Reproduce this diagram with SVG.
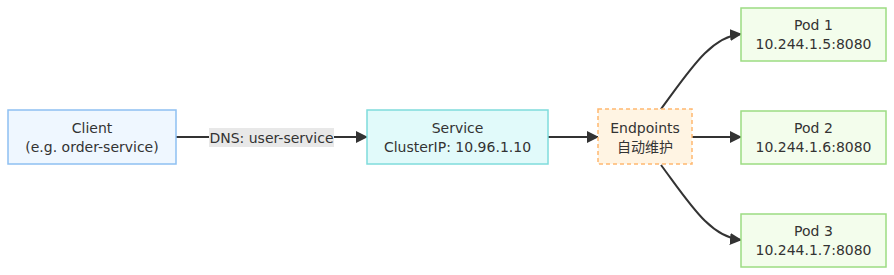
<svg xmlns="http://www.w3.org/2000/svg" width="894" height="275" viewBox="0 0 894 275">
<style>
text{font-family:"DejaVu Sans","Noto Sans CJK SC",sans-serif;font-size:14px;fill:#333;text-anchor:middle}
.e{fill:none;stroke:#333;stroke-width:2}
</style>
<defs>
<marker id="a" viewBox="0 0 10 10" refX="9" refY="5" markerWidth="6" markerHeight="6" markerUnits="userSpaceOnUse" orient="auto"><path d="M0,0L10,5L0,10z" fill="#333"/></marker>
<marker id="ah" viewBox="0 0 12 12" refX="11" refY="6" markerWidth="12" markerHeight="12" markerUnits="userSpaceOnUse" orient="auto"><path d="M0,0L12,6L0,12z" fill="#333"/></marker>
</defs>
<rect width="894" height="275" fill="#fff"/>
<g id="edges">
<path class="e" d="M176,137H367" marker-end="url(#ah)"/>
<rect x="209" y="128" width="125" height="19" fill="#e8e8e8"/>
<text x="271.5" y="142.5">DNS: user-service</text>
<path class="e" d="M548,137H598" marker-end="url(#ah)"/>
<path class="e" d="M692,137H741" marker-end="url(#ah)"/>
<path class="e" d="M661,109C690,70 710,37 741,34" marker-end="url(#ah)"/>
<path class="e" d="M661,165C690,204 710,237 741,240" marker-end="url(#ah)"/>
</g>
<g id="client">
<rect x="8" y="110" width="168" height="54" fill="#eff7ff" stroke="#8ec0f2" stroke-width="1.5"/>
<text x="92" y="133">Client</text>
<text x="92" y="152">(e.g. order-service)</text>
</g>
<g id="service">
<rect x="367" y="110" width="181" height="54" fill="#e1fafa" stroke="#7fdcdc" stroke-width="1.5"/>
<text x="457.5" y="133">Service</text>
<text x="457.5" y="152">ClusterIP: 10.96.1.10</text>
</g>
<g id="endpoints">
<rect x="598" y="109" width="94" height="55" fill="#fff4e3" stroke="#ffb870" stroke-width="1.5" stroke-dasharray="4 3"/>
<text x="645" y="133">Endpoints</text>
<text x="645" y="152">自动维护</text>
</g>
<g id="pod1">
<rect x="741" y="8" width="145" height="53" fill="#f3fdec" stroke="#9cdc82" stroke-width="1.5"/>
<text x="813.5" y="30">Pod 1</text>
<text x="813.5" y="49">10.244.1.5:8080</text>
</g>
<g id="pod2">
<rect x="741" y="111" width="145" height="53" fill="#f3fdec" stroke="#9cdc82" stroke-width="1.5"/>
<text x="813.5" y="133">Pod 2</text>
<text x="813.5" y="152">10.244.1.6:8080</text>
</g>
<g id="pod3">
<rect x="741" y="214" width="145" height="53" fill="#f3fdec" stroke="#9cdc82" stroke-width="1.5"/>
<text x="813.5" y="236">Pod 3</text>
<text x="813.5" y="255">10.244.1.7:8080</text>
</g>
</svg>
